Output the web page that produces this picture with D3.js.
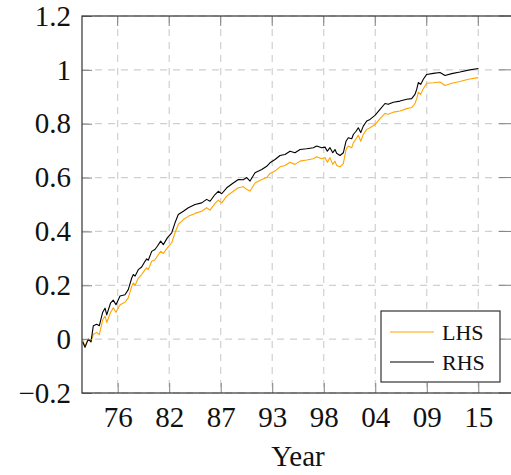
<!DOCTYPE html>
<html>
<head>
<meta charset="utf-8">
<script src="https://cdn.jsdelivr.net/npm/d3@7"></script>
<style>
	body { margin: 0; background: #fff; }
	svg text { font-family: "Liberation Serif", "DejaVu Serif", serif; fill: #111; }
</style>
</head>
<body>
<div id="vis"></div>
<script>

// decimal years of the read-off points
var years = [1972.76, 1973.01, 1973.36, 1973.65, 1973.90, 1974.26, 1974.54, 1974.90, 1975.15, 1975.33,
	1975.75, 1976.03, 1976.32, 1976.75, 1977.28, 1977.63, 1978.00, 1978.17, 1978.35, 1978.70,
	1979.06, 1979.42, 1979.60, 1979.77, 1980.13, 1980.48, 1980.73, 1981.09, 1981.37, 1981.80,
	1982.27, 1982.62, 1982.97, 1983.51, 1984.04, 1984.76, 1985.47, 1986.00, 1986.36, 1986.89,
	1987.24, 1987.61, 1988.14, 1988.84, 1989.38, 1989.91, 1990.28, 1990.63, 1991.16, 1991.88,
	1992.41, 1992.76, 1993.30, 1993.83, 1994.36, 1994.90, 1995.43, 1995.97, 1996.68, 1997.39,
	1997.75, 1998.28, 1998.64, 1998.88, 1999.17, 1999.46, 1999.70, 1999.88, 2000.24, 2000.59,
	2000.88, 2001.12, 2001.49, 2001.66, 2001.95, 2002.19, 2002.45, 2002.72, 2003.09, 2003.44,
	2003.97, 2004.51, 2005.04, 2005.39, 2005.93, 2006.64, 2007.36, 2007.89, 2008.24, 2008.43,
	2008.60, 2008.85, 2009.13, 2009.49, 2010.20, 2010.91, 2011.45, 2012.16, 2013.05, 2013.94,
	2015.00];

var lhs = [-0.005, -0.025, 0.000, -0.010, 0.017, 0.025, 0.017, 0.072, 0.085, 0.062,
	0.100, 0.116, 0.100, 0.128, 0.137, 0.153, 0.196, 0.209, 0.199, 0.227,
	0.240, 0.258, 0.265, 0.258, 0.289, 0.295, 0.308, 0.326, 0.318, 0.339,
	0.358, 0.395, 0.426, 0.444, 0.456, 0.467, 0.475, 0.488, 0.479, 0.504,
	0.516, 0.506, 0.531, 0.549, 0.562, 0.566, 0.556, 0.550, 0.580, 0.593,
	0.600, 0.615, 0.624, 0.640, 0.645, 0.657, 0.649, 0.661, 0.665, 0.670,
	0.677, 0.670, 0.674, 0.657, 0.674, 0.649, 0.661, 0.645, 0.640, 0.652,
	0.704, 0.717, 0.711, 0.729, 0.744, 0.757, 0.735, 0.760, 0.779, 0.785,
	0.797, 0.819, 0.838, 0.835, 0.843, 0.847, 0.856, 0.860, 0.875, 0.893,
	0.917, 0.909, 0.930, 0.950, 0.952, 0.955, 0.942, 0.950, 0.957, 0.965,
	0.971];

var rhs = [-0.010, -0.030, 0.000, -0.010, 0.050, 0.055, 0.050, 0.100, 0.115, 0.090,
	0.135, 0.145, 0.128, 0.160, 0.165, 0.184, 0.227, 0.240, 0.234, 0.258,
	0.268, 0.289, 0.298, 0.293, 0.326, 0.333, 0.345, 0.364, 0.351, 0.376,
	0.395, 0.432, 0.463, 0.475, 0.488, 0.500, 0.506, 0.519, 0.512, 0.537,
	0.549, 0.540, 0.562, 0.580, 0.593, 0.592, 0.600, 0.587, 0.618, 0.630,
	0.642, 0.655, 0.667, 0.682, 0.686, 0.698, 0.692, 0.704, 0.707, 0.711,
	0.717, 0.711, 0.713, 0.698, 0.711, 0.692, 0.704, 0.690, 0.682, 0.692,
	0.735, 0.748, 0.744, 0.760, 0.772, 0.785, 0.767, 0.791, 0.810, 0.816,
	0.831, 0.853, 0.875, 0.872, 0.880, 0.884, 0.891, 0.893, 0.909, 0.928,
	0.953, 0.946, 0.965, 0.983, 0.987, 0.990, 0.979, 0.986, 0.992, 0.999,
	1.005];

var xTicks = [1976.5, 1982.0, 1987.5, 1993.0, 1998.5, 2004.0, 2009.5, 2015.0];
var xTickLabels = ["76", "82", "87", "93", "98", "04", "09", "15"];
var yTicks = [-0.2, 0, 0.2, 0.4, 0.6, 0.8, 1, 1.2];
var yTickLabels = ["\u22120.2", "0", "0.2", "0.4", "0.6", "0.8", "1", "1.2"];
var seriesNames = ["LHS", "RHS"];
var seriesColors = ["#ffa500", "#000000"];

var serif = '"Liberation Serif", "DejaVu Serif", serif';
var width = 511, height = 475;
var plotLeft = 82, plotRight = 512, plotTop = 16, plotBottom = 393;
var tickLen = 10;

var svg = d3.select("#vis").append("svg")
	.attr("width", width)
	.attr("height", height);

var xScale = d3.scaleLinear()
	.domain([1972.69, 2018.6])
	.range([plotLeft, plotRight]);

var yScale = d3.scaleLinear()
	.domain([-0.2, 1.2])
	.range([plotBottom, plotTop]);

svg.append("clipPath").attr("id", "plotClip")
	.append("rect")
	.attr("x", plotLeft).attr("y", plotTop)
	.attr("width", plotRight - plotLeft).attr("height", plotBottom - plotTop);

// grid
var grid = svg.append("g").attr("class", "grid");
grid.selectAll(".vgrid").data(xTicks).enter().append("line")
	.attr("x1", d => xScale(d)).attr("x2", d => xScale(d))
	.attr("y1", plotTop).attr("y2", plotBottom)
	.style("stroke", "#d0d0d0").style("stroke-width", 1.2)
	.style("stroke-dasharray", "7,6");
grid.selectAll(".hgrid").data(yTicks).enter().append("line")
	.attr("x1", plotLeft).attr("x2", plotRight)
	.attr("y1", d => yScale(d)).attr("y2", d => yScale(d))
	.style("stroke", "#d0d0d0").style("stroke-width", 1.2)
	.style("stroke-dasharray", "7,6");

// lines
var line = d3.line()
	.x((d, i) => xScale(years[i]))
	.y(d => yScale(d));

var allSeries = [lhs, rhs];
svg.append("g").attr("clip-path", "url(#plotClip)")
	.selectAll(".series").data(allSeries).enter().append("path")
	.attr("d", d => line(d))
	.style("fill", "none")
	.style("stroke", (d, i) => seriesColors[i])
	.style("stroke-width", 1.1)
	.style("stroke-linejoin", "round");

// axes: labels from d3 axes, tick marks drawn inward
var xAxis = svg.append("g")
	.attr("transform", "translate(0," + plotBottom + ")")
	.call(d3.axisBottom(xScale).tickValues(xTicks)
		.tickFormat((d, i) => xTickLabels[i])
		.tickSizeInner(-tickLen).tickSizeOuter(0).tickPadding(13));
xAxis.attr("font-family", serif);
xAxis.select(".domain").remove();
xAxis.selectAll(".tick line").style("stroke", "#808080");
xAxis.selectAll("text").style("font-family", serif).style("font-size", "29px").style("fill", "#111");

var yAxis = svg.append("g")
	.attr("transform", "translate(" + plotLeft + ",0)")
	.call(d3.axisLeft(yScale).tickValues(yTicks)
		.tickFormat((d, i) => yTickLabels[i])
		.tickSizeInner(-tickLen).tickSizeOuter(0).tickPadding(11));
yAxis.attr("font-family", serif);
yAxis.select(".domain").remove();
yAxis.selectAll(".tick line").style("stroke", "#808080");
yAxis.selectAll("text").style("font-family", serif).style("font-size", "29px").style("fill", "#111");

// top and right tick marks
svg.append("g").selectAll("line").data(xTicks).enter().append("line")
	.attr("x1", d => xScale(d)).attr("x2", d => xScale(d))
	.attr("y1", plotTop).attr("y2", plotTop + tickLen)
	.style("stroke", "#808080");
svg.append("g").selectAll("line").data(yTicks).enter().append("line")
	.attr("x1", plotRight - tickLen - 3).attr("x2", plotRight)
	.attr("y1", d => yScale(d)).attr("y2", d => yScale(d))
	.style("stroke", "#808080");

// frame
svg.append("rect")
	.attr("x", plotLeft).attr("y", plotTop)
	.attr("width", plotRight - plotLeft).attr("height", plotBottom - plotTop)
	.style("fill", "none").style("stroke", "#333").style("stroke-width", 1.2);

svg.append("text")
	.attr("x", 298).attr("y", 466)
	.attr("text-anchor", "middle")
	.style("font-family", serif)
	.style("font-size", "29px")
	.text("Year");

// legend
var legend = svg.append("g").attr("transform", "translate(381,311)");
legend.append("rect")
	.attr("width", 119).attr("height", 71)
	.style("fill", "#fff").style("stroke", "#333").style("stroke-width", 1.2);

var items = legend.selectAll(".item").data(seriesNames).enter().append("g")
	.attr("transform", (d, i) => "translate(0," + (21 + i * 30) + ")");
items.append("line")
	.attr("x1", 9).attr("x2", 53)
	.style("stroke", (d, i) => seriesColors[i])
	.style("stroke-width", 1.1);
items.append("text")
	.attr("x", 61).attr("y", 7.5)
	.style("font-family", serif)
	.style("font-size", "22px")
	.text(d => d);

</script>
</body>
</html>
